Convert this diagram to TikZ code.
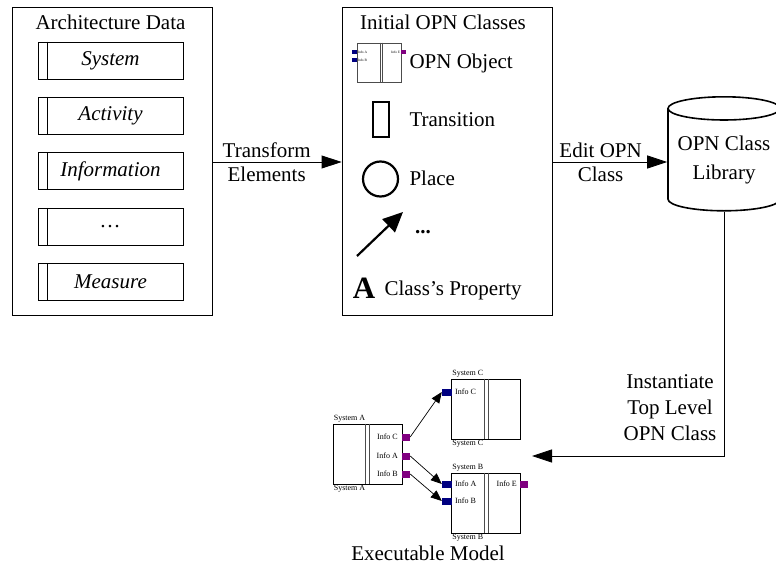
\documentclass[tikz,border=0pt]{standalone}
\usepackage{fontspec}
\setmainfont{Liberation Serif}
\usetikzlibrary{positioning,arrows.meta,shapes.geometric}

\definecolor{portblue}{RGB}{0,0,128}
\definecolor{portpurple}{RGB}{128,0,128}

\tikzset{
    panel/.style={draw, line width=0.8pt, minimum width=200pt, minimum height=308pt, inner sep=0pt},
    rowbox/.style={draw, line width=0.8pt, minimum width=145pt, minimum height=37pt, inner sep=0pt,
        font=\fontsize{21}{25}\selectfont\itshape},
    flow/.style={-{Triangle[length=20pt,width=13pt]}, line width=0.8pt},
    sysbox/.style={draw, line width=0.8pt, minimum width=69pt, minimum height=60pt, inner sep=0pt},
    tiny/.style={font=\fontsize{8}{9}\selectfont, inner sep=1pt},
    inport/.style={fill=portblue, minimum width=10pt, minimum height=7pt, inner sep=0pt},
    outport/.style={fill=portpurple, minimum width=8pt, minimum height=7pt, inner sep=0pt},
    link/.style={-{Triangle[length=11pt,width=9pt]}, line width=0.7pt},
}

\begin{document}
\begin{tikzpicture}[x=1pt, y=-1pt, font=\fontsize{21}{25}\selectfont]

    \useasboundingbox (0,0) rectangle (776,567);

    % architecture data
    \node[panel] (arch) at (112,161) {};
    \node at (110.5,22) {Architecture Data};
    \foreach \txt [count=\i] in {System, Activity, Information, \ldots, Measure}{
        \node[rowbox] (row\i) at (110.5,{60.5+(\i-1)*55.4}) {\txt};
        \draw[line width=0.8pt] ([xshift=10pt]row\i.north west) -- ([xshift=10pt]row\i.south west);
    }

    % initial classes
    \node[panel, minimum width=210pt] (opn) at (447,161) {};
    \node at (443,22) {Initial OPN Classes};

    \node[draw=black!70, line width=0.6pt, minimum width=44pt, minimum height=39pt, inner sep=0pt] (icon) at (379,62.5) {};
    \draw[black!70, line width=0.6pt] ([xshift=1pt]icon.north) -- ([xshift=1pt]icon.south)
                                      ([xshift=3pt]icon.north) -- ([xshift=3pt]icon.south);
    \node[fill=portblue, minimum width=5pt, minimum height=4pt, inner sep=0pt] (iA) at (354.5,52) {};
    \node[fill=portblue, minimum width=5pt, minimum height=4pt, inner sep=0pt] (iB) at (354.5,60) {};
    \node[fill=portpurple, minimum width=5pt, minimum height=4pt, inner sep=0pt] (iE) at (403.5,52) {};
    \node[font=\fontsize{3.5}{4}\selectfont, inner sep=0.5pt, anchor=west] at (iA.east) {Info A};
    \node[font=\fontsize{3.5}{4}\selectfont, inner sep=0.5pt, anchor=west] at (iB.east) {Info B};
    \node[font=\fontsize{3.5}{4}\selectfont, inner sep=0.5pt, anchor=east] at (iE.west) {Info E};
    \node[anchor=west] at (406,63) {OPN Object};

    \node[draw, line width=2.2pt, minimum width=16pt, minimum height=35pt, inner sep=0pt] (trans) at (381,119.5) {};
    \node[anchor=west] at (406,120) {Transition};

    \node[draw, circle, line width=2.2pt, minimum size=35pt, inner sep=0pt] (place) at (380.5,179) {};
    \node[anchor=west] at (406,178) {Place};

    \coordinate (tail) at (357,256);
    \coordinate (head) at (403,212);
    \draw[-{Triangle[length=20pt,width=18pt]}, line width=2.2pt] (tail) -- (head);
    \node[font=\fontsize{21}{25}\selectfont\bfseries] at (423,232) {...};

    \node[font=\fontsize{31}{35}\selectfont\bfseries] at (364,288) {A};
    \node[anchor=west] at (381,290) {Class's Property};

    % class library
    \node[cylinder, draw, line width=1.6pt, shape border rotate=90, aspect=0.25,
          minimum width=112pt, minimum height=114pt, inner sep=0pt, align=center] (lib) at (724,160)
          {OPN Class\\[4pt]Library};

    \draw[flow] (arch.east |- 0,162) -- (opn.west |- 0,162)
        node[pos=0.42, above=1pt] {Transform}
        node[pos=0.42, below=1pt] {Elements};
    \draw[flow] (opn.east |- 0,162) -- (lib.west |- 0,162)
        node[pos=0.42, above=1pt] {Edit OPN}
        node[pos=0.42, below=1pt] {Class};

    \coordinate (inst) at (532,456);
    \draw[flow] (lib.south) |- (inst);
    \node[align=center, inner sep=0pt] at (670,408) {Instantiate\\[1pt]Top Level\\[1pt]OPN Class};

    % executable model
    \node[sysbox] (sysA) at (367.5,454) {};
    \node[sysbox] (sysC) at (486,409) {};
    \node[sysbox] (sysB) at (486,503) {};
    \foreach \s/\n in {sysA/A, sysC/C, sysB/B}{
        \draw[black!70] ([xshift=-2pt]\s.north) -- ([xshift=-2pt]\s.south)
                        ([xshift=2pt]\s.north) -- ([xshift=2pt]\s.south);
        \node[tiny, anchor=south west] at (\s.north west) {System \n};
        \node[tiny, anchor=north west] at (\s.south west) {System \n};
    }

    \node[outport] (aC) at (406,437) {};
    \node[outport] (aA) at (406,456) {};
    \node[outport] (aB) at (406,474) {};
    \node[tiny, anchor=east] at (399,437) {Info C};
    \node[tiny, anchor=east] at (399,456) {Info A};
    \node[tiny, anchor=east] at (399,474) {Info B};

    \node[inport] (cC) at (447,392) {};
    \node[tiny, anchor=west] at (454,392) {Info C};

    \node[inport] (bA) at (447,484) {};
    \node[inport] (bB) at (447,501) {};
    \node[outport] (bE) at (524,484) {};
    \node[tiny, anchor=west] at (454,484) {Info A};
    \node[tiny, anchor=west] at (454,501) {Info B};
    \node[tiny, anchor=east] at (518,484) {Info E};

    \draw[link] (aC.east) -- (cC.west);
    \draw[link] (aA.east) -- (bA.west);
    \draw[link] (aB.east) -- (bB.west);

    \node at (428,553) {Executable Model};

\end{tikzpicture}
\end{document}
